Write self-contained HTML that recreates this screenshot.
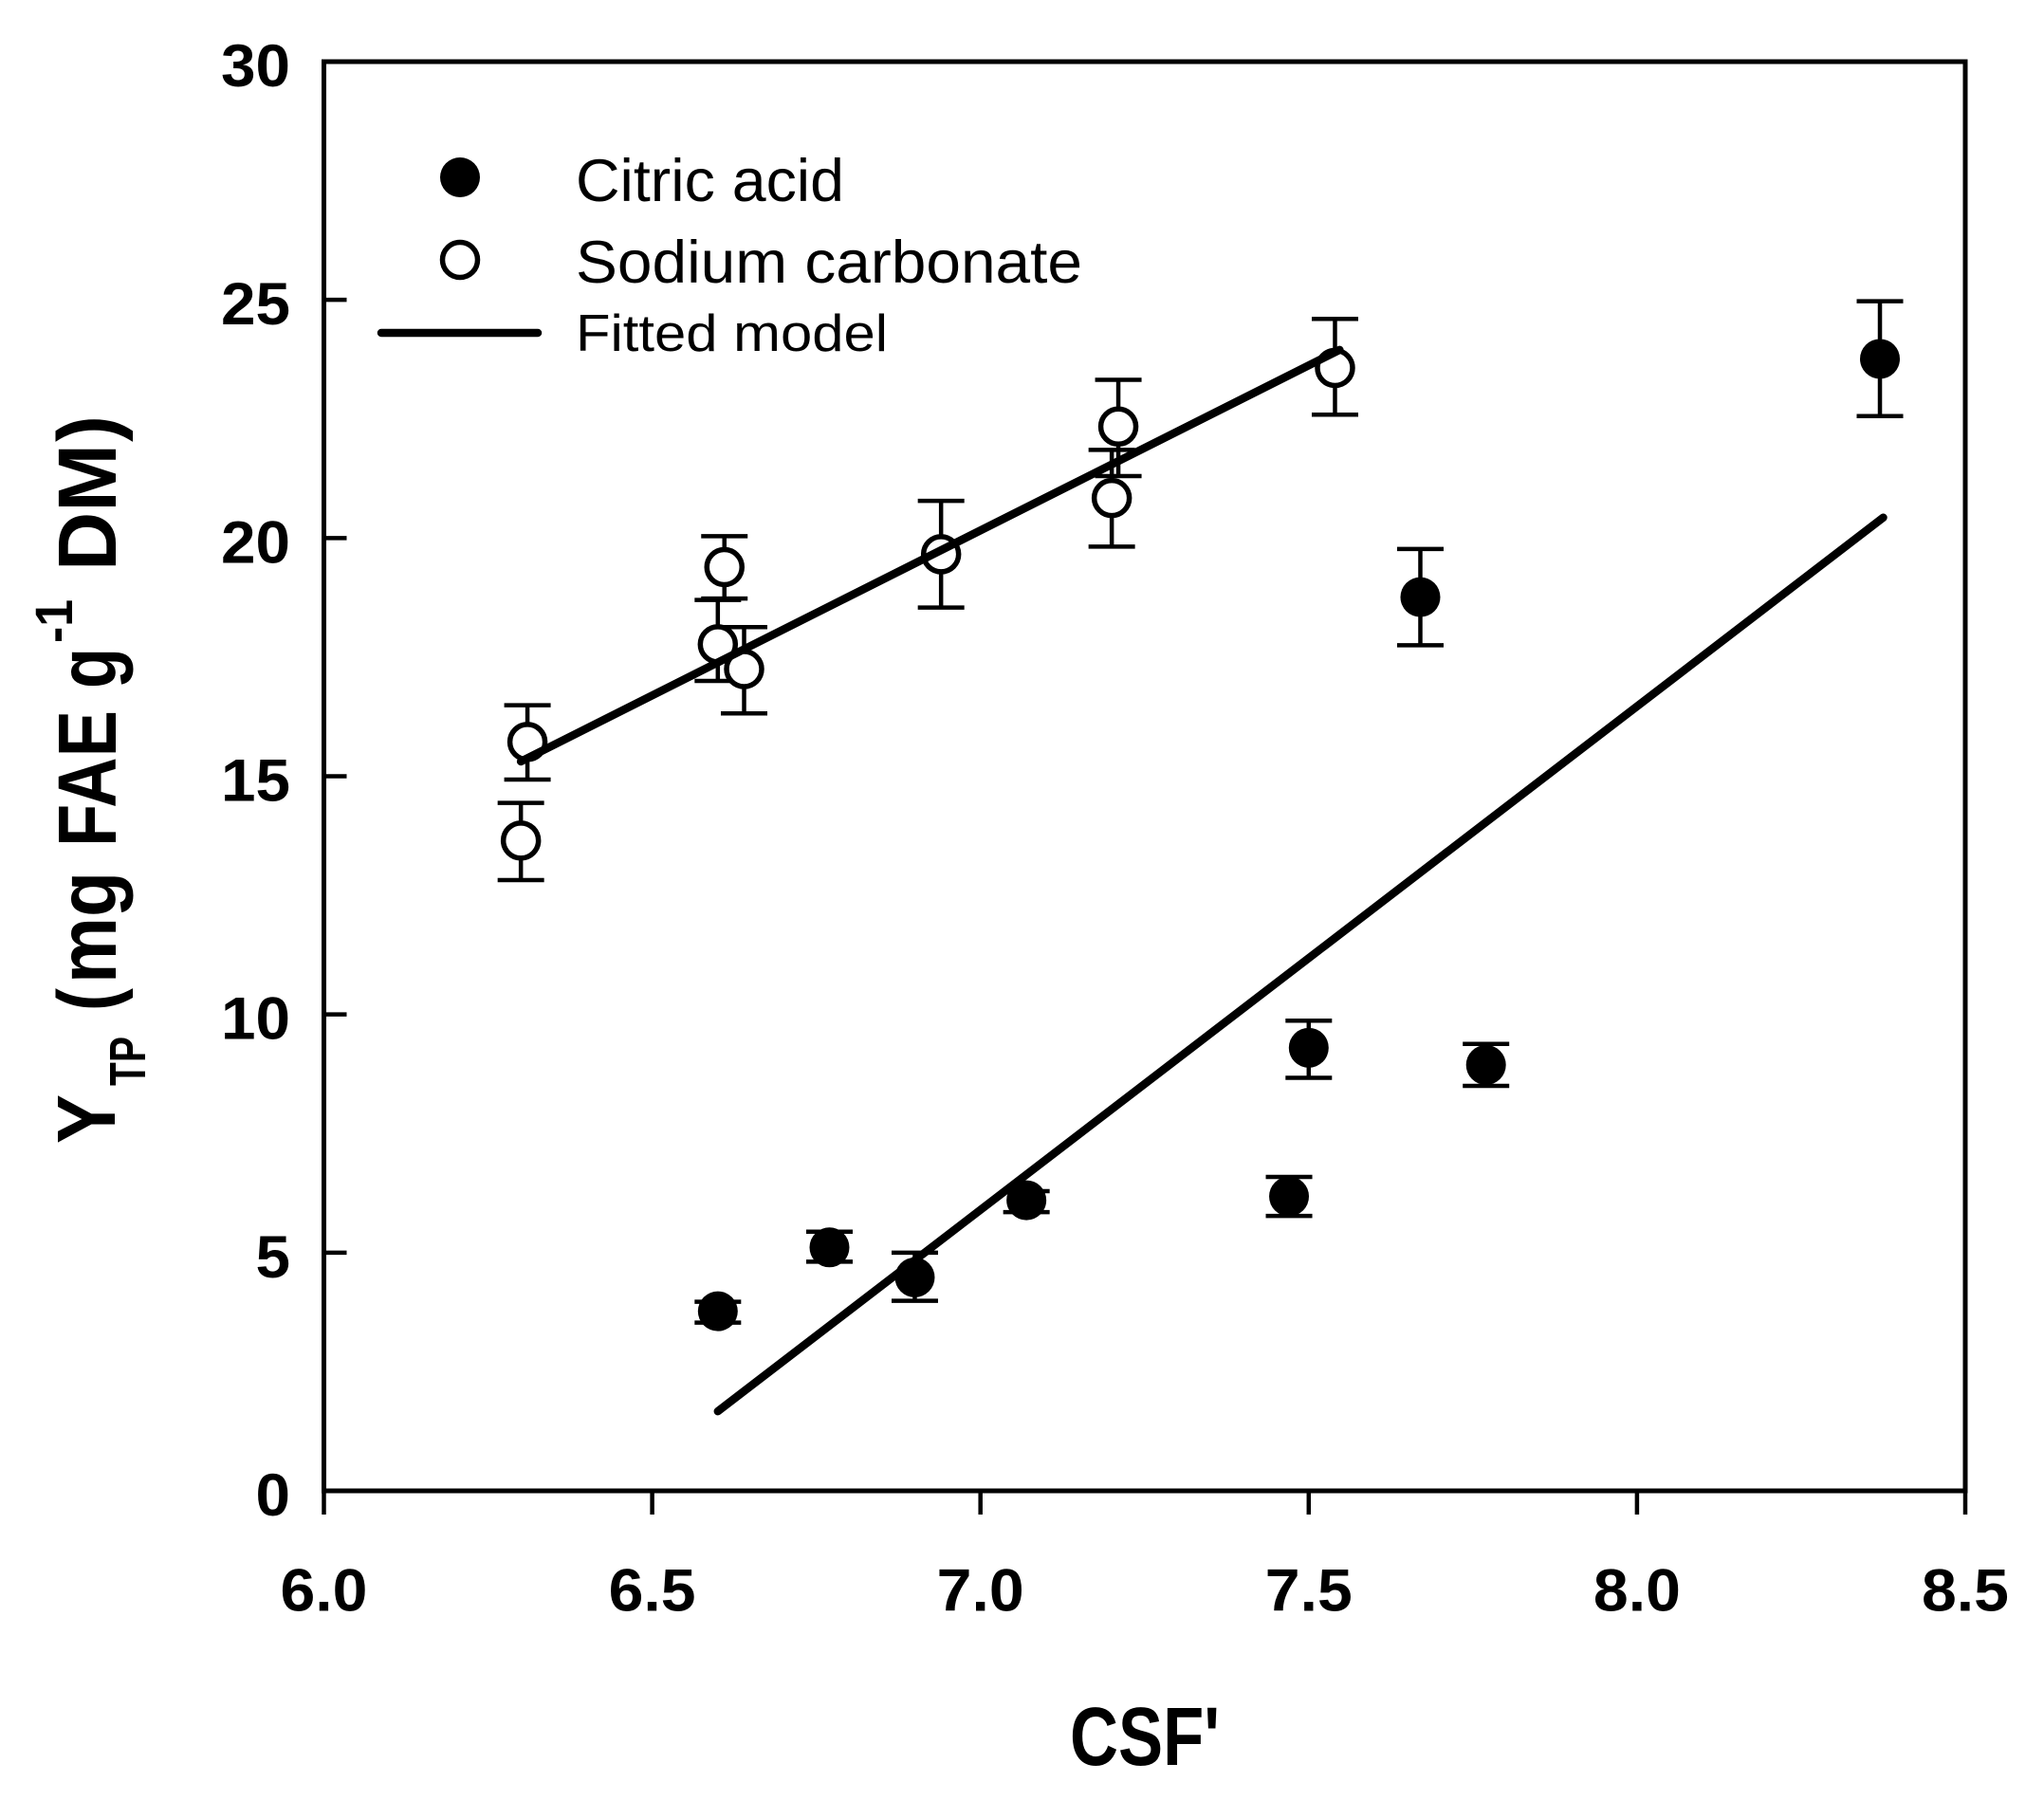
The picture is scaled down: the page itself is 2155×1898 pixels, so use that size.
<!DOCTYPE html>
<html lang="en">
<head>
<meta charset="utf-8">
<title>Y_TP versus CSF'</title>
<style>
html,body{margin:0;padding:0;background:#fff;}
svg{display:block;}
text{font-family:"Liberation Sans",sans-serif;fill:#000;}
.tick{font-weight:700;font-size:63px;}
.ttl{font-weight:700;font-size:87px;}
.leg{font-size:63px;}
</style>
</head>
<body>
<svg id="chart" xmlns="http://www.w3.org/2000/svg" width="2155" height="1898" viewBox="0 0 2155 1898">
  <rect x="0" y="0" width="2155" height="1898" fill="#fff"/>
  <g id="axes"></g>
  <g id="sodium-layer"></g>
  <g id="citric-layer"></g>
  <g id="fit-layer"></g>

  <g>
    <circle cx="485" cy="187" r="21" fill="#000"/>
    <text class="leg" x="607" y="212" textLength="283" lengthAdjust="spacingAndGlyphs">Citric acid</text>
    <circle cx="485" cy="274" r="18.5" fill="#fff" stroke="#000" stroke-width="5.5"/>
    <text class="leg" x="607" y="298" textLength="534" lengthAdjust="spacingAndGlyphs">Sodium carbonate</text>
    <line x1="402" y1="351" x2="567" y2="351" stroke="#000" stroke-width="8.5" stroke-linecap="round"/>
    <text x="607" y="370" font-size="55" textLength="329" lengthAdjust="spacingAndGlyphs">Fitted model</text>
  </g>

  <text class="ttl" x="1128" y="1861" textLength="158" lengthAdjust="spacingAndGlyphs">CSF'</text>

  <g>
    <text class="ttl" transform="translate(121,1206) rotate(-90)" textLength="52" lengthAdjust="spacingAndGlyphs">Y</text>
    <text font-size="54" font-weight="700" transform="translate(153,1145) rotate(-90)" textLength="52" lengthAdjust="spacingAndGlyphs">TP</text>
    <text class="ttl" transform="translate(122,1066) rotate(-90)" textLength="24" lengthAdjust="spacingAndGlyphs">(</text>
    <text class="ttl" transform="translate(122,1037) rotate(-90)" textLength="118" lengthAdjust="spacingAndGlyphs">mg</text>
    <text class="ttl" transform="translate(122,893) rotate(-90)" textLength="144" lengthAdjust="spacingAndGlyphs">FAE</text>
    <text class="ttl" transform="translate(122,726) rotate(-90)" textLength="43" lengthAdjust="spacingAndGlyphs">g</text>
    <text font-size="56" font-weight="700" transform="translate(76,678) rotate(-90)" textLength="46" lengthAdjust="spacingAndGlyphs">-1</text>
    <text class="ttl" transform="translate(122,602) rotate(-90)" textLength="134" lengthAdjust="spacingAndGlyphs">DM</text>
    <text class="ttl" transform="translate(122,466) rotate(-90)" textLength="28" lengthAdjust="spacingAndGlyphs">)</text>
  </g>
</svg>

<script>
var xTickLabels = ["6.0", "6.5", "7.0", "7.5", "8.0", "8.5"];
var yTickLabels = ["0", "5", "10", "15", "20", "25", "30"];

var sodiumX    = [6.30, 6.31, 6.60, 6.61, 6.64, 6.94, 7.20, 7.21, 7.54];
var sodiumY    = [13.65, 15.72, 17.77, 19.39, 17.25, 19.66, 20.84, 22.34, 23.57];
var sodiumHigh = [14.44, 16.49, 18.70, 20.04, 18.13, 20.78, 21.85, 23.32, 24.60];
var sodiumLow  = [12.82, 14.93, 17.00, 18.73, 16.32, 18.54, 19.82, 21.30, 22.59];

var citricX    = [6.60, 6.77, 6.90, 7.07, 7.47, 7.50, 7.77, 7.67, 8.37];
var citricY    = [3.77, 5.11, 4.48, 6.10, 6.18, 9.30, 8.94, 18.76, 23.76];
var citricHigh = [3.97, 5.44, 5.00, 6.29, 6.59, 9.87, 9.38, 19.77, 24.97];
var citricLow  = [3.53, 4.81, 3.99, 5.85, 5.77, 8.67, 8.50, 17.75, 22.56];

var sodiumFitX = [6.30, 7.547];
var sodiumFitY = [15.31, 23.95];
var citricFitX = [6.60, 8.375];
var citricFitY = [1.67, 20.43];

var NS = "http://www.w3.org/2000/svg";

function sx(v) { return 341.5 + (v - 6) * (2072 - 341.5) / 2.5; }
function sy(v) { return 1572 - v * (1572 - 65) / 30; }

function make(tag, parent, attrs) {
  var el = document.createElementNS(NS, tag);
  for (var k in attrs) { el.setAttribute(k, attrs[k]); }
  parent.appendChild(el);
  return el;
}

var axes = document.getElementById("axes");

var frame = make("rect", axes, {x: sx(6), y: sy(30), width: sx(8.5) - sx(6), height: sy(0) - sy(30), fill: "none", stroke: "#000", "stroke-width": 5});



xTickLabels.forEach(function (label) {
  var v = parseFloat(label);
  var tick = make("line", axes, {x1: sx(v), x2: sx(v), y1: sy(0), y2: sy(0) + 25, stroke: "#000", "stroke-width": 4.5});
  
  
  var t = make("text", axes, {class: "tick", x: sx(v), y: 1698.5, "text-anchor": "middle", textLength: 92, lengthAdjust: "spacingAndGlyphs"});
  
  
  t.textContent = label;
});

yTickLabels.forEach(function (label) {
  var v = parseFloat(label);
  if (v > 0 && v < 30) {
    var tick = make("line", axes, {x1: sx(6), x2: sx(6) + 24, y1: sy(v), y2: sy(v), stroke: "#000", "stroke-width": 4.5});
    
    
  }
  var t = make("text", axes, {class: "tick", x: 306, y: sy(v) + 26, "text-anchor": "end", textLength: label.length * 36.5, lengthAdjust: "spacingAndGlyphs"});
  
  
  t.textContent = label;
});

function drawSeries(layer, xs, ys, highs, lows, filled) {
  xs.forEach(function (xv, i) {
    var cx = sx(xv);
    var stem = make("line", layer, {x1: cx, x2: cx, y1: sy(highs[i]), y2: sy(lows[i]), stroke: "#000", "stroke-width": 4.5});
    
    
    var capTop = make("line", layer, {x1: cx - 24.5, x2: cx + 24.5, y1: sy(highs[i]), y2: sy(highs[i]), stroke: "#000", "stroke-width": 4.5});
    
    
    var capLow = make("line", layer, {x1: cx - 24.5, x2: cx + 24.5, y1: sy(lows[i]), y2: sy(lows[i]), stroke: "#000", "stroke-width": 4.5});
    
    
  });
  xs.forEach(function (xv, i) {
    var pt = make("circle", layer, filled
      ? {cx: sx(xv), cy: sy(ys[i]), r: 21, fill: "#000"}
      : {cx: sx(xv), cy: sy(ys[i]), r: 18.5, fill: "#fff", stroke: "#000", "stroke-width": 5.5});
    
    
  });
}

drawSeries(document.getElementById("sodium-layer"), sodiumX, sodiumY, sodiumHigh, sodiumLow, false);
drawSeries(document.getElementById("citric-layer"), citricX, citricY, citricHigh, citricLow, true);

var fitLayer = document.getElementById("fit-layer");

var fitSodium = make("line", fitLayer, {x1: sx(sodiumFitX[0]), y1: sy(sodiumFitY[0]), x2: sx(sodiumFitX[1]), y2: sy(sodiumFitY[1]), stroke: "#000", "stroke-width": 8.5, "stroke-linecap": "round"});



var fitCitric = make("line", fitLayer, {x1: sx(citricFitX[0]), y1: sy(citricFitY[0]), x2: sx(citricFitX[1]), y2: sy(citricFitY[1]), stroke: "#000", "stroke-width": 8.5, "stroke-linecap": "round"});


</script>
</body>
</html>
